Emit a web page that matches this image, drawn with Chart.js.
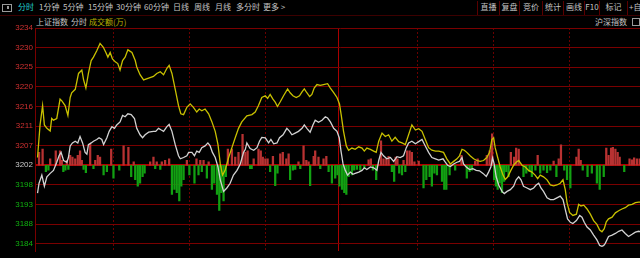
<!DOCTYPE html>
<html><head><meta charset="utf-8">
<script src="https://cdn.jsdelivr.net/npm/chart.js@4"></script>
<style>
html,body{margin:0;padding:0;background:#000;width:640px;height:258px;overflow:hidden;}
#wrap{position:relative;width:640px;height:258px;overflow:hidden;background:#000;}
#c{position:absolute;left:0;top:0;}
.t{position:absolute;white-space:nowrap;font-family:"Noto Sans CJK SC","Liberation Sans",sans-serif;font-size:8px;line-height:8px;color:#c4c4c4;}
.btn{position:absolute;top:1px;height:14px;border-left:1px solid #5a0000;box-sizing:border-box;}
.btn span{position:absolute;left:0;right:0;top:2px;text-align:center;font-family:"Noto Sans CJK SC","Liberation Sans",sans-serif;font-size:8px;line-height:8px;color:#c4c4c4;white-space:nowrap;}
</style></head>
<body><div id="wrap">
<div style="position:absolute;left:2px;top:4px;width:8px;height:6px;border:1px solid #9a9a9a;"></div>
<div style="position:absolute;left:7px;top:6px;width:2px;height:3px;background:#9a9a9a;"></div>
<div class="t" style="left:18px;top:3px;color:#20d0d0;">分时</div>
<div class="t" style="left:39px;top:3px;">1分钟</div>
<div class="t" style="left:63px;top:3px;">5分钟</div>
<div class="t" style="left:88px;top:3px;">15分钟</div>
<div class="t" style="left:116px;top:3px;">30分钟</div>
<div class="t" style="left:144px;top:3px;">60分钟</div>
<div class="t" style="left:173px;top:3px;">日线</div>
<div class="t" style="left:194px;top:3px;">周线</div>
<div class="t" style="left:215px;top:3px;">月线</div>
<div class="t" style="left:236px;top:3px;">多分时</div>
<div class="t" style="left:263px;top:3px;">更多 &gt;</div>
<div class="btn" style="left:477px;width:22px;"><span>直播</span></div>
<div class="btn" style="left:499px;width:20px;"><span>复盘</span></div>
<div class="btn" style="left:519px;width:23px;"><span>竞价</span></div>
<div class="btn" style="left:542px;width:21px;"><span>统计</span></div>
<div class="btn" style="left:563px;width:21px;"><span>画线</span></div>
<div class="btn" style="left:584px;width:15px;"><span>F10</span></div>
<div class="btn" style="left:599px;width:28px;"><span>标记</span></div>
<div class="btn" style="left:627px;width:20px;"><span style="text-align:left;left:1px;">+自选</span></div>
<div style="position:absolute;left:0;top:15px;width:640px;height:1px;background:#3c0000;"></div>
<div class="t" style="left:36px;top:18px;">上证指数</div>
<div class="t" style="left:71px;top:18px;">分时</div>
<div class="t" style="left:89px;top:18px;color:#b8b000;">成交额(万)</div>
<div class="t" style="left:595px;top:18px;">沪深指数</div>
<div style="position:absolute;left:632px;top:18px;width:6px;height:6px;border:1px solid #9a9a9a;"></div>
<canvas id="c" width="645" height="258"></canvas>
</div>
<script>
// ---- axis constants ----
const baseValue = 3202.2;
const tickStep = 4.57;
const yMax = 3234.19;
const yMin = 3182.16;
const tickValues = [3234.19,3229.62,3225.05,3220.48,3215.91,3211.34,3206.77,3202.2,3197.63,3193.06,3188.49,3183.92];
const tickLabels = ['3234','3230','3225','3220','3216','3211','3207','3202','3198','3193','3188','3184'];
const gridMinutes = [30,60,90,150,180,210];
const middayMinute = 119;

// ---- yellow line (minutes from 9:30, index value) ----
const yellowTimes = [
0,1.0,2.0,2.7,3.7,5.0,5.6,6.3,7.6,8.9,9.6,10.9,12.0,12.9,13.5,14.9,16.2,17.5,18.2,19.1,
20.1,21.2,22.1,23.4,24.7,26.0,27.0,27.8,28.7,29.6,30.7,31.7,32.6,33.6,34.6,35.7,37.3,38.6,39.2,40.5,
41.9,43.9,45.8,47.1,48.5,49.8,51.1,52.0,53.1,54.4,55.7,56.6,57.7,59.0,60.3,61.6,62.9,63.9,64.9,66.2,
67.6,68.9,70.2,71.3,72.2,73.1,74.1,75.5,76.8,78.1,79.4,80.7,
82.7,84.7,86.0,87.3,88.6,90.0,90.9,91.9,93.0,93.9,94.8,95.9,97.2,98.8,99.8,100.9,102.2,103.5,104.5,105.4,
106.4,107.5,108.4,109.3,110.4,111.7,113.0,114.6,115.7,117.0,118.3,119.3,120.0,120.9,122.0,122.9,124.2,125.5,126.9,128.2,
129.1,130.1,131.5,132.8,133.8,134.8,136.1,137.4,138.7,140.0,141.3,142.7,144.0,145.3,146.6,147.9,149.3,150.6,151.9,153.2,
154.5,155.8,157.2,158.5,
160.4,161.7,163.1,164.4,165.7,166.7,167.7,168.6,169.6,170.9,172.3,173.6,174.9,176.2,177.5,178.6,179.5,180.2,180.8,181.8,
182.8,183.9,184.8,185.8,187.0,188.1,189.1,190.1,191.4,192.7,194.0,195.3,196.6,197.6,198.6,199.9,201.3,202.6,203.9,205.2,
206.5,207.6,208.5,209.2,210.2,211.5,212.9,213.8,214.7,215.8,217.1,218.4,219.7,221.0,222.1,223.0,223.9,224.7,225.6,227.0,
228.3,229.6,230.9,232.2,233.5,234.9,236.2,237.5,238.1];
const yellowValues = [
3204.0,3211.6,3216.1,3211.6,3210.8,3210.2,3213.1,3212.7,3213.1,3217.6,3217.2,3216.1,3213.8,3218.0,3219.1,3219.9,3223.6,3224.4,3222.1,3220.2,
3223.6,3226.6,3227.4,3228.9,3230.6,3229.7,3228.5,3227.4,3228.5,3227.0,3226.3,3225.9,3224.4,3226.6,3227.4,3229.1,3228.5,3226.6,3225.1,3223.3,
3222.1,3222.5,3222.9,3223.6,3224.0,3223.3,3224.8,3225.5,3223.6,3219.9,3216.1,3214.2,3214.0,3215.7,3216.5,3215.7,3214.6,3215.3,3214.9,3215.3,
3214.2,3212.3,3210.1,3207.0,3202.5,3199.9,3201.0,3204.0,3206.3,3208.6,3210.8,3212.3,
3213.7,3214.0,3214.6,3216.1,3218.0,3218.4,3217.8,3218.7,3217.6,3216.9,3215.9,3217.0,3218.4,3220.0,3219.1,3218.4,3218.0,3218.4,3219.3,3220.0,
3219.1,3218.2,3218.7,3220.2,3221.0,3220.8,3221.0,3221.2,3220.2,3219.1,3218.0,3216.5,3213.8,3210.1,3206.7,3205.7,3206.2,3205.9,3206.5,3206.2,
3205.5,3206.2,3205.9,3205.5,3205.2,3207.8,3209.7,3208.9,3209.3,3207.8,3208.7,3207.7,3207.4,3207.0,3209.3,3211.6,3210.4,3210.7,3210.1,3208.2,
3206.3,3205.7,3205.5,3205.5,
3205.2,3203.7,3202.5,3203.1,3203.7,3204.4,3205.9,3205.7,3205.2,3204.4,3203.7,3203.3,3203.1,3203.3,3204.0,3205.2,3208.2,3208.6,3206.3,3204.0,
3201.8,3199.9,3198.9,3199.5,3201.0,3202.2,3202.9,3203.3,3202.2,3201.8,3201.0,3200.6,3199.9,3199.1,3199.9,3199.5,3198.8,3197.6,3197.4,3197.6,
3198.0,3198.8,3196.5,3193.5,3191.2,3190.5,3190.8,3193.1,3192.7,3192.9,3192.0,3190.8,3189.3,3188.4,3187.1,3186.7,3187.4,3189.0,3189.7,3190.1,
3191.1,3191.6,3192.0,3192.3,3192.9,3193.1,3193.5,3193.6,3193.6];

// ---- white line ----
const whiteTimes = [
0,0.6,1.7,2.7,3.7,5.0,6.3,7.6,8.5,9.3,10.3,11.6,12.2,12.9,13.8,14.9,15.9,16.8,17.8,18.8,
19.5,20.1,21.2,22.1,23.4,24.3,25.4,26.1,27.4,28.3,29.4,30.4,31.3,32.6,33.6,34.6,35.7,37.0,38.3,39.2,
40.5,41.5,42.5,43.9,45.8,46.7,47.8,48.9,49.8,51.1,52.0,53.1,54.4,55.7,56.4,57.7,59.0,59.7,61.0,62.0,
62.9,63.9,64.9,66.2,67.3,68.2,69.1,70.2,71.3,72.2,73.5,74.8,76.1,77.4,78.8,80.1,81.4,82.1,
82.7,84.0,85.4,86.7,87.7,88.6,90.0,91.3,92.2,93.3,94.6,95.6,97.0,98.5,99.6,100.5,101.8,103.1,104.5,105.4,
106.4,107.7,108.8,109.7,111.0,112.4,113.7,114.6,115.7,117.0,118.3,119.2,119.9,120.7,121.6,122.5,123.6,124.6,125.5,126.9,
128.2,129.1,130.1,131.5,132.8,134.1,134.8,135.7,136.7,138.0,139.4,140.7,142.0,143.3,144.6,145.7,146.6,147.9,149.3,150.6,
151.9,153.2,154.5,155.8,157.2,158.5,
160.2,161.1,162.0,163.1,164.4,165.7,166.7,167.7,168.3,169.4,170.7,172.0,173.3,174.6,176.0,177.3,178.2,179.1,179.8,180.4,
181.2,182.2,183.5,184.4,185.5,186.8,188.1,189.1,190.1,191.0,192.0,193.4,194.7,196.0,197.0,198.0,198.9,199.9,201.3,202.6,
203.9,205.2,206.5,207.6,208.5,209.4,210.5,211.5,212.9,214.2,215.1,216.0,217.1,218.4,219.7,221.0,222.1,223.0,223.7,224.3,
225.6,227.0,228.3,229.6,230.9,232.2,233.5,234.9,236.2,237.5,238.1];
const whiteValues = [
3195.7,3198.0,3199.9,3197.3,3199.5,3200.3,3201.0,3202.9,3204.4,3205.2,3203.3,3202.9,3204.0,3206.7,3207.4,3207.8,3207.4,3208.9,3207.4,3205.2,
3204.8,3207.0,3207.4,3207.8,3208.2,3208.6,3208.2,3207.0,3208.6,3210.1,3211.2,3210.8,3211.6,3212.3,3213.8,3213.5,3214.2,3214.0,3213.1,3210.8,
3209.3,3208.6,3209.3,3209.9,3210.1,3210.1,3210.8,3210.4,3210.1,3211.2,3211.7,3210.1,3207.0,3204.4,3203.7,3204.0,3204.4,3205.2,3205.2,3204.4,
3205.5,3205.2,3206.3,3206.7,3207.4,3206.7,3205.2,3204.0,3201.8,3198.8,3196.1,3196.9,3198.0,3199.9,3201.0,3202.5,3205.2,3205.9,
3207.4,3206.1,3205.7,3206.3,3207.8,3208.7,3208.6,3207.4,3208.2,3207.2,3207.4,3208.6,3209.3,3210.8,3210.1,3209.3,3209.7,3210.1,3210.8,3211.6,
3210.8,3209.9,3211.6,3212.7,3212.2,3212.7,3213.5,3213.2,3212.3,3210.8,3210.1,3208.6,3205.5,3202.5,3201.0,3199.9,3200.6,3200.1,3200.3,3200.6,
3201.0,3201.6,3201.2,3201.8,3201.6,3201.0,3203.3,3205.2,3204.4,3203.7,3204.0,3203.1,3204.2,3204.0,3204.4,3206.3,3207.4,3207.8,3207.2,3207.7,
3208.2,3206.7,3205.2,3204.0,3203.7,3203.4,
3203.7,3202.9,3202.2,3201.9,3202.5,3202.9,3203.1,3204.0,3202.5,3201.8,3201.2,3201.4,3201.0,3200.9,3200.3,3199.6,3200.6,3201.8,3203.9,3202.5,
3199.5,3197.6,3196.1,3195.6,3196.1,3196.5,3197.3,3198.8,3199.5,3198.8,3197.3,3196.9,3196.5,3196.9,3197.6,3198.0,3196.9,3196.1,3194.6,3194.2,
3194.2,3194.6,3195.0,3194.2,3191.9,3189.7,3188.9,3188.6,3189.3,3190.5,3190.1,3188.9,3187.8,3187.1,3185.9,3184.8,3183.5,3183.3,3183.5,3184.0,
3185.6,3185.9,3186.3,3186.8,3187.1,3186.3,3185.6,3186.1,3186.6,3186.8,3186.7];

// ---- red / green strength bars (10 units = one grid step) ----
const barTimes = [
0.6,2.0,3.3,4.3,5.0,7.2,8.9,9.6,10.2,11.0,11.6,12.2,12.9,13.8,14.9,15.9,16.8,17.5,18.2,19.1,
20.8,22.1,22.8,23.8,24.7,26.1,27.4,29.1,30.0,32.3,34.0,35.9,37.0,38.0,38.6,39.6,40.5,41.5,42.3,44.5,
45.8,46.5,47.1,48.5,49.1,50.4,52.0,53.1,54.1,55.0,56.0,56.8,57.7,59.0,60.0,62.0,62.8,63.6,64.3,64.9,
65.6,66.9,67.6,68.9,69.8,70.9,71.8,72.6,73.5,74.4,75.2,76.8,78.1,79.4,81.0,82.1,83.0,84.0,84.6,85.4,
87.3,88.2,89.0,90.0,90.9,91.9,93.0,93.9,94.8,95.9,96.9,98.3,99.2,99.8,100.9,101.8,103.1,103.8,105.1,106.2,
107.1,107.7,109.1,109.7,111.0,111.7,113.0,114.1,115.0,116.3,117.6,118.5,119.3,120.3,121.2,122.0,122.9,124.2,125.1,126.2,
127.5,129.1,130.8,131.7,132.5,133.8,135.7,136.7,137.8,138.7,140.0,140.9,141.5,142.2,142.9,144.0,144.6,145.3,146.0,147.0,
147.9,148.9,150.6,152.5,153.6,154.9,155.8,156.8,157.8,159.8,160.7,161.5,162.8,165.0,167.5,169.6,170.7,171.6,172.9,173.9,
177.5,178.6,179.6,180.4,181.1,181.8,182.6,183.5,184.3,185.2,186.1,187.0,188.3,189.1,190.1,192.0,193.1,194.4,195.3,196.7,
197.6,198.6,199.9,201.3,202.6,203.9,205.0,205.9,206.8,208.1,209.2,210.5,212.9,213.8,214.6,215.4,217.3,219.0,221.0,222.1,
223.7,224.7,225.6,226.6,227.3,228.3,229.2,230.0,231.8,233.9,234.9,235.7,236.8,237.9];
const barValues = [
6.6,8.3,-3.3,-2.5,3.3,7.4,7.4,2.5,-3.3,-2.5,2.5,-2.1,5.0,4.1,3.3,5.0,7.4,2.5,-2.1,-3.8,
10.7,-1.7,2.5,5.0,4.1,-5.0,-3.3,8.3,-6.6,-2.5,9.9,9.1,-5.8,1.7,-7.4,-10.7,-9.1,-5.8,-4.1,1.7,
4.1,-1.7,1.7,-2.1,1.7,2.5,3.3,-14.9,-12.4,-14.0,-18.2,-10.7,-7.4,2.5,-5.0,-9.1,3.3,-5.0,2.5,-3.3,
2.5,-6.6,1.7,-12.4,-9.1,-14.9,-23.1,-14.0,-18.2,-5.8,8.3,8.3,4.1,6.6,15.7,6.6,7.4,-1.7,-1.7,3.3,
8.3,7.4,4.1,3.3,3.3,-3.3,4.5,-10.4,-4.1,5.8,6.6,3.3,5.8,-7.4,-2.5,-2.1,1.7,-1.7,9.9,2.5,
1.7,-10.4,4.5,7.4,4.1,-1.7,3.3,4.5,-3.3,-9.1,-6.6,-5.0,-10.7,-12.4,-14.0,-14.9,-5.8,-5.0,-2.5,-2.1,
-2.5,-1.7,2.8,3.3,-2.5,-7.4,12.4,3.3,3.3,4.5,-3.3,-8.3,4.1,3.3,-4.1,-5.0,2.5,-3.3,7.4,7.4,
6.6,1.7,2.1,-11.6,-7.4,-5.8,-10.7,-4.1,-5.0,-8.3,-12.4,-12.4,-5.0,-2.5,5.0,-6.6,-3.3,-2.5,2.1,3.3,
5.0,7.4,16.0,-7.4,-10.7,-12.4,-9.1,-14.0,-8.3,-3.3,-5.8,6.6,4.1,8.7,8.3,-5.8,-4.1,-3.3,-5.8,-2.5,
5.0,-4.1,-2.5,-3.8,-2.5,2.1,-5.8,3.3,10.4,-2.5,-7.4,-11.6,4.1,8.3,2.5,-2.5,-5.8,-4.1,-9.1,-12.4,
-5.8,8.7,5.0,8.7,9.1,8.3,6.6,4.1,-3.3,3.3,2.8,3.8,3.3,3.3];

const toXY = (ts, vs) => ts.map((t, i) => ({x: t, y: vs[i]}));
const barMin = (yMin - baseValue) / tickStep * 10;
const barMax = (yMax - baseValue) / tickStep * 10;

new Chart(document.getElementById('c'), {
  data: {
    datasets: [
      {type: 'line', data: toXY(whiteTimes, whiteValues), borderColor: '#d2d2d2', borderWidth: 1.3,
       pointRadius: 0, tension: 0, yAxisID: 'y', xAxisID: 'x', order: 0},
      {type: 'line', data: toXY(yellowTimes, yellowValues), borderColor: '#c8c000', borderWidth: 1.3,
       pointRadius: 0, tension: 0, yAxisID: 'y', xAxisID: 'x', order: 1},
      {type: 'bar', data: toXY(barTimes, barValues), barThickness: 1.6,
       backgroundColor: c => (c.raw && c.raw.y >= 0) ? '#b83232' : '#12a012',
       yAxisID: 'y2', xAxisID: 'x', order: 2}
    ]
  },
  options: {
    responsive: false, animation: false, events: [],
    layout: {padding: {top: 28, left: 0, right: 0, bottom: 0}},
    plugins: {legend: {display: false}, tooltip: {enabled: false}},
    scales: {
      x: {type: 'linear', position: 'bottom', min: -1, max: 240, offset: false,
          afterBuildTicks: s => { s.ticks = gridMinutes.map(v => ({value: v})); },
          afterFit: s => { s.height = 0; },
          ticks: {display: false},
          grid: {color: '#6a0000', lineWidth: 1, drawTicks: false, offset: false},
          border: {display: false, dash: [2, 2]}},
      xMid: {type: 'linear', position: 'bottom', min: -1, max: 240, offset: false,
          afterBuildTicks: s => { s.ticks = [{value: middayMinute}]; },
          afterFit: s => { s.height = 0; },
          ticks: {display: false},
          grid: {color: '#a80000', lineWidth: 1, drawTicks: false, offset: false},
          border: {display: false}},
      y: {type: 'linear', position: 'left', min: yMin, max: yMax,
          afterBuildTicks: s => { s.ticks = tickValues.map(v => ({value: v})); },
          afterFit: s => { s.width = 35; },
          ticks: {autoSkip: false, padding: 2, font: {family: 'Liberation Sans', size: 8},
                  color: c => c.index < 7 ? '#d03030' : (c.index === 7 ? '#c8c8c8' : '#10b010'),
                  callback: (v, i) => tickLabels[i]},
          grid: {color: c => c.index === 7 ? '#b00000' : '#7a0000',
                 lineWidth: c => c.index === 7 ? 2 : 1, drawTicks: false},
          border: {display: true, color: '#7a0000', width: 1}},
      y2: {type: 'linear', display: false, min: barMin, max: barMax}
    }
  }
});
</script>
</body></html>
